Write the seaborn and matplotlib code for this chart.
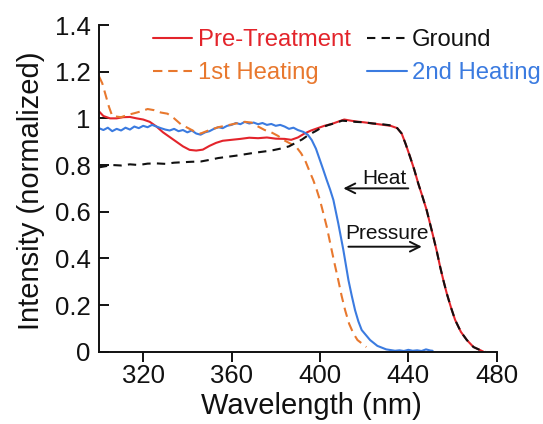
import matplotlib
matplotlib.use("Agg")
import matplotlib.pyplot as plt
from matplotlib.lines import Line2D
import seaborn as sns
import pandas as pd

# ---------------- data ----------------
pre_x = [300, 302, 305, 308, 311, 314, 317, 320, 323, 326,
         329, 332, 335, 338, 341, 344, 347, 350, 353, 356,
         360, 364, 368, 372, 376, 380, 384, 387, 390, 393,
         396, 399, 402, 405, 408, 411, 414, 417, 420, 424,
         428, 432, 435, 437, 438.8, 440.8, 442.7, 444.5, 446.4, 448.3,
         449.8, 451.3, 452.9, 454.4, 455.9, 457.4, 459.3, 461.2, 463.8, 466.5,
         469.5, 472.5, 474]
pre_y = [1.03, 1.01, 1.0, 1.0, 1.005, 1.006, 1.0, 0.995, 0.985, 0.965,
         0.94, 0.92, 0.9, 0.88, 0.865, 0.862, 0.866, 0.882, 0.895, 0.904,
         0.908, 0.912, 0.917, 0.915, 0.918, 0.913, 0.912, 0.908, 0.918, 0.935,
         0.948, 0.958, 0.968, 0.975, 0.985, 0.995, 0.99, 0.986, 0.983, 0.978,
         0.973, 0.968, 0.958, 0.935, 0.89, 0.835, 0.78, 0.721, 0.665, 0.607,
         0.55, 0.493, 0.43, 0.364, 0.305, 0.25, 0.19, 0.136, 0.085, 0.05,
         0.02, 0.007, 0.0]

ground_x = [300, 303, 306, 310, 314, 318, 322, 326, 330, 334,
            338, 342, 346, 350, 354, 358, 362, 366, 370, 374,
            378, 382, 386, 389, 392, 395, 398, 401, 404, 407,
            410, 413, 416, 420, 424, 428, 432, 435, 437, 438.8,
            440.8, 442.7, 444.5, 446.4, 448.3, 449.8, 451.3, 452.9, 454.4, 455.9,
            457.4, 459.3, 461.2, 463.8, 466.5, 469.5, 472.5, 475]
ground_y = [0.79, 0.795, 0.80, 0.798, 0.803, 0.80, 0.806, 0.807, 0.805, 0.81,
            0.812, 0.814, 0.815, 0.822, 0.83, 0.835, 0.84, 0.846, 0.852, 0.857,
            0.862, 0.87, 0.88, 0.895, 0.91, 0.93, 0.945, 0.962, 0.972, 0.98,
            0.99, 0.988, 0.985, 0.983, 0.978, 0.975, 0.97, 0.958, 0.935, 0.89,
            0.835, 0.78, 0.721, 0.665, 0.607, 0.55, 0.493, 0.43, 0.364, 0.305,
            0.25, 0.19, 0.136, 0.085, 0.05, 0.02, 0.007, 0.0]

heat1_x = [300, 301.5, 303, 304.5, 306, 310, 313, 316, 319, 322,
           325, 328, 331, 334, 337, 340, 343, 346, 350, 354,
           358, 362, 366, 369, 372, 375, 378, 381, 384, 387,
           389.5, 391.5, 393.3, 395, 397, 398.5, 400, 401.5, 403.1, 405.3,
           406.8, 408.3, 409.8, 411.4, 413.2, 415.1, 417, 418.9, 421]
heat1_y = [1.18, 1.15, 1.1, 1.05, 1.01, 1.005, 1.015, 1.022, 1.03, 1.04,
           1.035, 1.025, 1.02, 1.0, 0.975, 0.96, 0.945, 0.935, 0.95, 0.962,
           0.97, 0.978, 0.985, 0.982, 0.965, 0.95, 0.94, 0.925, 0.905, 0.89,
           0.875, 0.85, 0.82, 0.78, 0.735, 0.695, 0.65, 0.595, 0.535, 0.436,
           0.37, 0.307, 0.24, 0.178, 0.12, 0.079, 0.05, 0.036, 0.02]

heat2_x = [300, 302, 304, 306, 308, 310, 312, 314, 316, 318,
           320, 322, 324, 326, 328, 330, 332, 334, 336, 338,
           340, 342, 344, 346, 348, 350, 352, 354, 356, 358,
           360, 362, 364, 366, 368, 370, 372, 374, 376, 378,
           380, 382, 384, 386, 388, 390, 392.5, 394.5, 396.3,
           398.2, 400, 401.5, 403.1, 404.6, 406.1, 408.3, 410.6, 412.9, 414.4,
           415.9, 417.4, 418.9, 422.7, 426, 430, 434, 436, 438, 440,
           442, 444, 446, 448, 450, 451]
heat2_y = [0.958, 0.95, 0.96, 0.945, 0.955, 0.948, 0.96, 0.952, 0.965, 0.958,
           0.968, 0.962, 0.972, 0.965, 0.958, 0.952, 0.948, 0.955, 0.945, 0.95,
           0.94, 0.948, 0.935, 0.93, 0.94, 0.945, 0.955, 0.962, 0.958, 0.968,
           0.972, 0.98, 0.975, 0.985, 0.978, 0.982, 0.975, 0.98, 0.972, 0.976,
           0.968, 0.972, 0.965, 0.955, 0.96, 0.95, 0.942, 0.93, 0.907,
           0.87, 0.821, 0.78, 0.735, 0.695, 0.65, 0.55, 0.436, 0.307, 0.24,
           0.178, 0.13, 0.093, 0.05, 0.025, 0.01, 0.004, 0.006, 0.003, 0.008,
           0.004, 0.006, 0.003, 0.01, 0.005, 0.004]

x_ticks = [320, 360, 400, 440, 480]
y_ticks = [0, 0.2, 0.4, 0.6, 0.8, 1.0, 1.2, 1.4]
y_tick_labels = ["0", "0.2", "0.4", "0.6", "0.8", "1", "1.2", "1.4"]

# ---------------- styling ----------------
sns.set_style("ticks")
plt.rcParams["font.family"] = ["Liberation Sans", "DejaVu Sans"]

RED = "#e3242b"
ORANGE = "#e8782e"
BLUE = "#3b7be0"
BLACK = "#111111"

fig = plt.figure(figsize=(5.43, 4.24), dpi=100)
ax = fig.add_axes([0.1823, 0.1705, 0.7324, 0.7705])

lw = 1.5
df_pre = pd.DataFrame({"x": pre_x, "y": pre_y})
df_ground = pd.DataFrame({"x": ground_x, "y": ground_y})
df_h1 = pd.DataFrame({"x": heat1_x, "y": heat1_y})
df_h2 = pd.DataFrame({"x": heat2_x, "y": heat2_y})

sns.lineplot(data=df_pre, x="x", y="y", ax=ax, color=RED, lw=lw,
             sort=False, estimator=None)
sns.lineplot(data=df_h2, x="x", y="y", ax=ax, color=BLUE, lw=lw,
             sort=False, estimator=None)
sns.lineplot(data=df_h1, x="x", y="y", ax=ax, color=ORANGE, lw=lw,
             sort=False, estimator=None)
ax.lines[-1].set_dashes((4.5, 2.8))
sns.lineplot(data=df_ground, x="x", y="y", ax=ax, color=BLACK, lw=lw,
             sort=False, estimator=None)
ax.lines[-1].set_dashes((4.0, 3.0))

ax.set_xlim(300, 480)
ax.set_ylim(0, 1.4)
ax.set_xticks(x_ticks)
ax.set_yticks(y_ticks)
ax.set_yticklabels(y_tick_labels)

for s in ["top", "right"]:
    ax.spines[s].set_visible(False)
for s in ["left", "bottom"]:
    ax.spines[s].set_linewidth(1.4)
    ax.spines[s].set_color("#111111")

ax.tick_params(axis="x", direction="out", length=7, width=1.4,
               labelsize=18.5, pad=1.5, colors="#111111")
ax.tick_params(axis="y", direction="in", length=7, width=1.4,
               labelsize=18.5, pad=6, colors="#111111")

ax.set_xlabel("Wavelength (nm)", fontsize=21, color="#111111")
ax.set_ylabel("Intensity (normalized)", fontsize=21, color="#111111")
ax.xaxis.set_label_coords(0.533, -0.123)
ax.yaxis.set_label_coords(-0.135, 0.492)

# ---------------- legend ----------------
handles = [
    Line2D([], [], color=RED, lw=lw),
    Line2D([], [], color=ORANGE, lw=lw, dashes=(4.5, 2.8)),
    Line2D([], [], color=BLACK, lw=lw, dashes=(4.0, 3.0)),
    Line2D([], [], color=BLUE, lw=lw),
]
labels = ["Pre-Treatment", "1st Heating", "Ground", "2nd Heating"]
leg = fig.legend(handles, labels, ncol=2, loc="upper left",
                 bbox_to_anchor=(0.2818, 0.9316), frameon=False,
                 fontsize=17.2, handlelength=1.65, handletextpad=0.22,
                 columnspacing=0.7, labelspacing=0.46, borderpad=0,
                 borderaxespad=0)
for txt, c in zip(leg.get_texts(), [RED, ORANGE, BLACK, BLUE]):
    txt.set_color(c)

# ---------------- annotations ----------------
arrow_kw = dict(arrowstyle="->,head_length=0.7,head_width=0.35",
                lw=1.4, color="#111111", mutation_scale=10,
                shrinkA=0, shrinkB=0)
ax.annotate("", xy=(410.6, 0.70), xytext=(440.0, 0.70), arrowprops=arrow_kw)
ax.annotate("", xy=(446.1, 0.45), xytext=(412.9, 0.45), arrowprops=arrow_kw)
ax.text(429.1, 0.718, "Heat", fontsize=15, ha="center", va="baseline",
        color="#111111")
ax.text(430.2, 0.484, "Pressure", fontsize=15, ha="center", va="baseline",
        color="#111111")

fig.savefig("out.png", dpi=100)
